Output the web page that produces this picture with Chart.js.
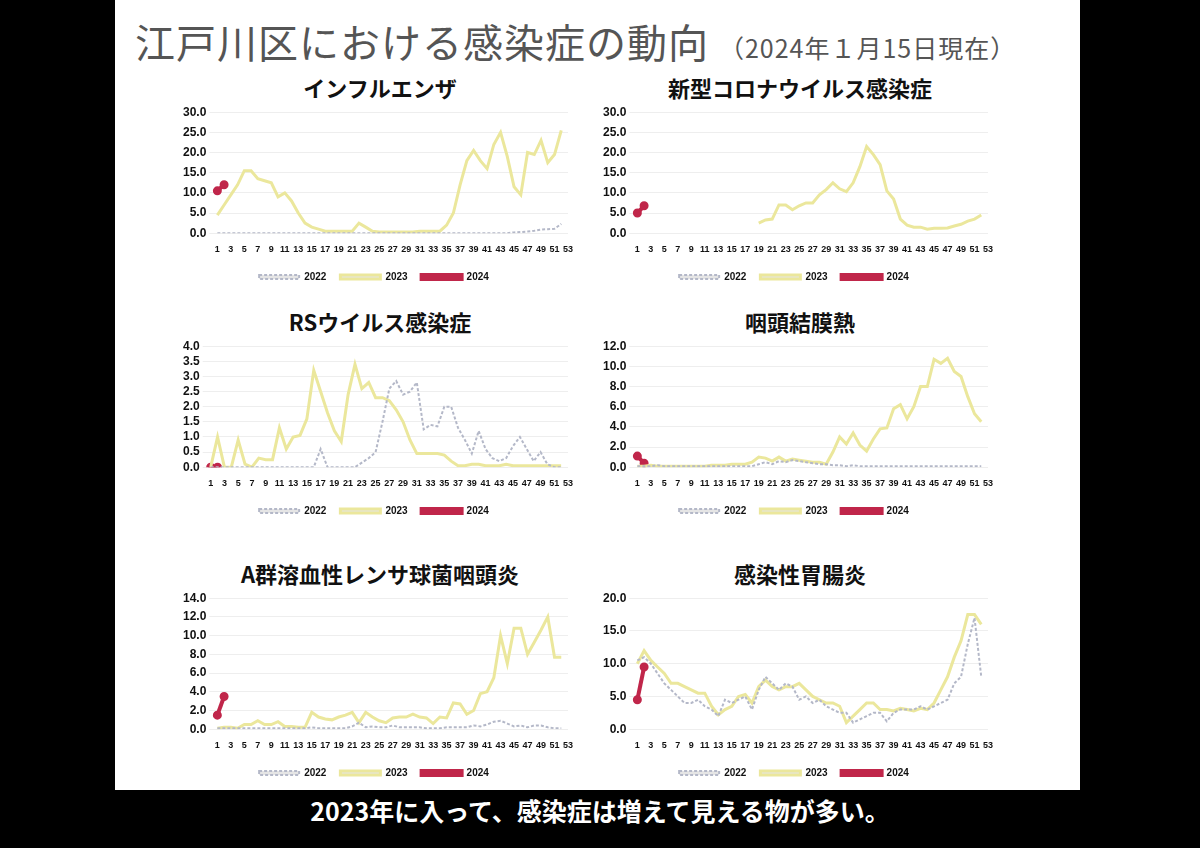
<!DOCTYPE html>
<html><head><meta charset="utf-8">
<script src="https://cdn.jsdelivr.net/npm/chart.js@4"></script>
<style>
body{margin:0;width:1200px;height:848px;background:#000;font-family:"Noto Sans CJK JP",sans-serif;position:relative;overflow:hidden}
#slide{position:absolute;left:115px;top:0;width:965px;height:790px;background:#fff}
#title{position:absolute;left:135px;top:12px;font-size:40px;color:#555;letter-spacing:1px;white-space:nowrap}
#title small{font-size:25px;color:#555}
.panel{position:absolute;width:400px}
.panel h2{margin:0;text-align:center;font-size:22px;font-weight:bold;color:#111;height:30px;line-height:30px}
#caption{position:absolute;left:0;width:1200px;top:792px;text-align:center;color:#fff;font-size:25px;font-weight:bold}
</style></head><body>
<div id="slide"></div>
<div id="title">江戸川区における感染症の動向 <small>（2024年１月15日現在）</small></div>
<div class="panel" style="left:180px;top:72px"><h2>インフルエンザ</h2><canvas id="c1" width="400" height="190"></canvas></div>
<div class="panel" style="left:600px;top:72px"><h2>新型コロナウイルス感染症</h2><canvas id="c2" width="400" height="190"></canvas></div>
<div class="panel" style="left:180px;top:306px"><h2>RSウイルス感染症</h2><canvas id="c3" width="400" height="190"></canvas></div>
<div class="panel" style="left:600px;top:306px"><h2>咽頭結膜熱</h2><canvas id="c4" width="400" height="190"></canvas></div>
<div class="panel" style="left:180px;top:558px"><h2>A群溶血性レンサ球菌咽頭炎</h2><canvas id="c5" width="400" height="200"></canvas></div>
<div class="panel" style="left:600px;top:558px"><h2>感染性胃腸炎</h2><canvas id="c6" width="400" height="200"></canvas></div>
<div id="caption">2023年に入って、感染症は増えて見える物が多い。</div>
<script>
const weeks = Array.from({length: 53}, (_, i) => String(i + 1));

const flu2022 = [0,0,0,0,0,0,0,0,0,0,0,0,0,0,0,0,0,0,0,0,0,0,0,0,0,0,0,0,0,0,0,0,0,0,0,0,0,0,0,0,0,0,0,0,0.2,0.3,0.4,0.6,0.9,1.0,1.1,2.3];
const flu2023 = [4.5,7,9.5,12,15.5,15.5,13.5,13,12.5,9,10,8,5,2.5,1.5,1,0.5,0.5,0.5,0.5,0.5,2.5,1.5,0.5,0.3,0.3,0.3,0.3,0.3,0.3,0.5,0.5,0.5,0.5,2,5,12,18,20.5,18,16,22,25,19,11.5,9.5,20,19.5,23,17.5,19.5,25.5];
const flu2024 = [10.5,12];

const cov2022 = [];
const cov2023 = [null,null,null,null,null,null,null,null,null,null,null,null,null,null,null,null,null,null,2.5,3.3,3.5,7,7,5.8,6.8,7.5,7.5,9.5,10.8,12.5,11,10.3,12.5,16.5,21.5,19.5,17,10.5,8.5,3.5,2,1.5,1.5,1,1.2,1.2,1.3,1.8,2.2,3,3.5,4.5];
const cov2024 = [5,6.8];

const rs2022 = [0,0,0,0,0,0,0,0,0,0,0,0,0,0,0,0,0.6,0,0,0,0,0,0.15,0.3,0.5,1.5,2.6,2.85,2.4,2.5,2.8,1.25,1.4,1.35,2.0,2.0,1.3,0.9,0.45,1.2,0.6,0.3,0.2,0.3,0.7,1.0,0.6,0.2,0.5,0.1,0,0];
const rs2023 = [0,1,0,0,0.9,0.1,0,0.3,0.25,0.25,1.3,0.6,1.0,1.05,1.6,3.2,2.5,1.8,1.2,0.85,2.4,3.4,2.6,2.8,2.3,2.3,2.2,1.9,1.5,0.9,0.45,0.45,0.45,0.45,0.4,0.2,0.05,0.05,0.1,0.1,0.05,0.05,0.05,0.1,0.05,0.05,0.05,0.05,0.05,0.05,0.05,0.05];
const rs2024 = [0,0];

const pcf2022 = [0.1,0.1,0.1,0.2,0.1,0.1,0.1,0.1,0.1,0.1,0.1,0.1,0.1,0.1,0.1,0.1,0.1,0.1,0.3,0.5,0.3,0.6,0.5,0.7,0.6,0.5,0.4,0.3,0.3,0.2,0.2,0.1,0.2,0.1,0.1,0.1,0.1,0.1,0.1,0.1,0.1,0.1,0.1,0.1,0.1,0.1,0.1,0.1,0.1,0.1,0.1,0.1];
const pcf2023 = [0.1,0.1,0.2,0.1,0.1,0.1,0.1,0.1,0.1,0.1,0.1,0.2,0.2,0.2,0.3,0.3,0.3,0.5,1.0,0.9,0.6,1.0,0.6,0.8,0.7,0.6,0.5,0.5,0.3,1.5,3,2.3,3.4,2.2,1.6,2.8,3.8,3.9,5.8,6.2,4.8,6,8,8,10.7,10.3,10.8,9.5,9,7,5.3,4.5];
const pcf2024 = [1.1,0.4];

const gas2022 = [0.1,0.1,0.1,0.1,0.1,0.1,0.1,0.1,0.1,0.1,0.1,0.1,0.1,0.1,0.2,0.1,0.1,0.1,0.1,0.1,0.3,0.7,0.2,0.3,0.2,0.2,0.4,0.2,0.2,0.2,0.2,0.1,0.1,0.1,0.2,0.2,0.2,0.2,0.4,0.3,0.5,0.8,0.9,0.6,0.3,0.4,0.2,0.4,0.4,0.2,0.1,0.1];
const gas2023 = [0.1,0.2,0.2,0.1,0.5,0.5,0.9,0.5,0.5,0.8,0.3,0.3,0.2,0.2,1.8,1.3,1.1,1.0,1.3,1.5,1.8,0.7,1.8,1.3,0.9,0.7,1.2,1.3,1.3,1.6,1.3,1.2,0.6,1.3,1.2,2.8,2.7,1.6,2,3.8,4,5.5,10,7,10.8,10.8,8,9.3,10.6,12,7.7,7.7];
const gas2024 = [1.5,3.5];

const gast2022 = [10.5,11,10,8.5,7,6,5,4,4,4.5,3.5,3,2,4.5,4,4.5,5,3,6,8,7,6,7,6.5,4.5,5,4,4.5,3.5,3,2.5,2.5,1,1.5,2,2.5,2.5,1.2,2.5,3,3,3,3.5,3,3.5,4,4.5,7,8,13,17,8];
const gast2023 = [10,12,10.5,9.5,8.5,7,7,6.5,6,5.5,5.5,3.5,2.2,3,3.5,5,5.3,4,6.5,7.5,6.5,6,6.5,6.5,7,6,5,4.5,4,4,3.5,1,2,3,4,4,3,3,2.8,3.2,3,2.8,3.2,3,4,6,8,11,13.5,17.5,17.5,16];
const gast2024 = [4.5,9.5];

function makeChart(id, d22, d23, d24, max, step) {
    new Chart(document.getElementById(id), {
        type: 'line',
        data: {
            labels: weeks,
            datasets: [
                {label: '2022', data: d22, borderColor: '#b4b8c8', borderWidth: 2, borderDash: [3, 2], pointRadius: 0, tension: 0},
                {label: '2023', data: d23, borderColor: '#ebe79c', borderWidth: 3, pointRadius: 0, tension: 0},
                {label: '2024', data: d24, borderColor: '#c0264a', backgroundColor: '#c0264a', borderWidth: 4, pointRadius: 2.5, tension: 0}
            ]
        },
        options: {
            responsive: false,
            animation: false,
            layout: {padding: {right: 12}},
            scales: {
                x: {
                    grid: {display: false},
                    border: {display: false},
                    ticks: {autoSkip: false, maxRotation: 0, color: '#111', font: {size: 9, weight: 'bold'},
                        callback: (v, i) => i % 2 === 0 ? weeks[i] : ''}
                },
                y: {
                    min: 0, max: max,
                    ticks: {stepSize: step, autoSkip: false, color: '#111', font: {size: 12, weight: 'bold'}, callback: v => v.toFixed(1)},
                    grid: {color: '#eeeeee'},
                    border: {display: false}
                }
            },
            plugins: {
                legend: {position: 'bottom', labels: {boxWidth: 40, boxHeight: 4, padding: 14, color: '#111', font: {size: 10, weight: 'bold'}}},
                tooltip: {enabled: false}
            }
        }
    });
}

makeChart('c1', flu2022, flu2023, flu2024, 30, 5);
makeChart('c2', cov2022, cov2023, cov2024, 30, 5);
makeChart('c3', rs2022, rs2023, rs2024, 4, 0.5);
makeChart('c4', pcf2022, pcf2023, pcf2024, 12, 2);
makeChart('c5', gas2022, gas2023, gas2024, 14, 2);
makeChart('c6', gast2022, gast2023, gast2024, 20, 5);
</script>
</body></html>
